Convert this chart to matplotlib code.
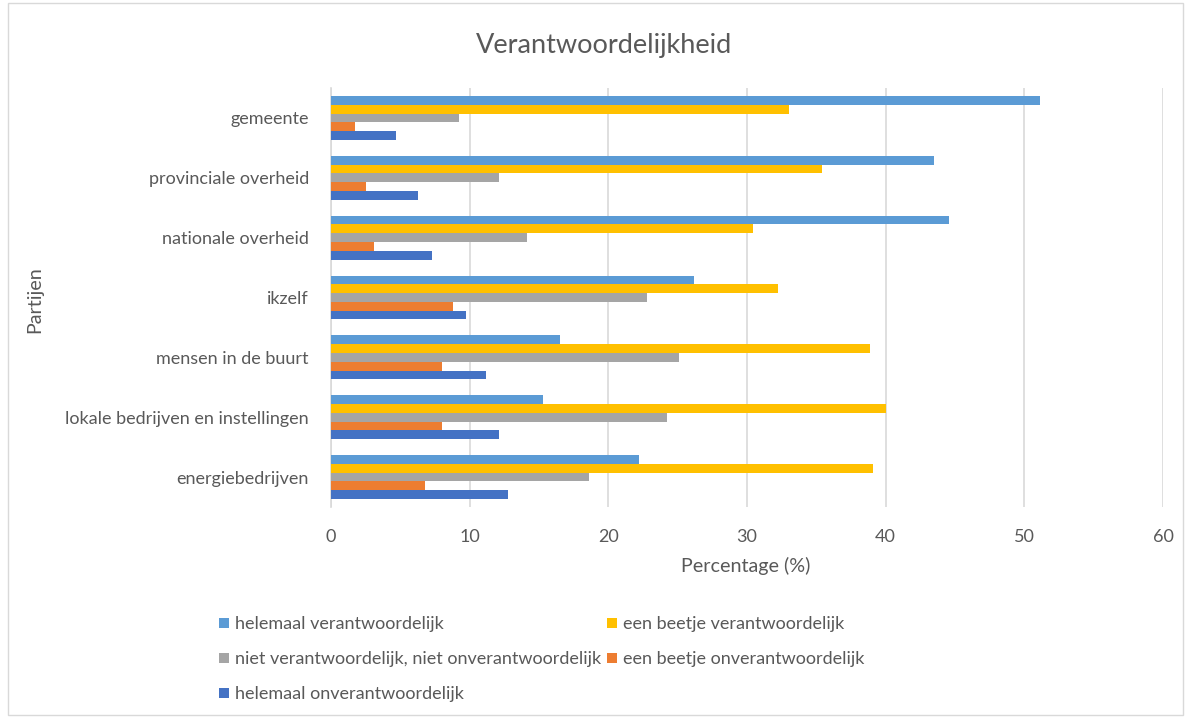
import matplotlib
matplotlib.use("Agg")
import matplotlib.pyplot as plt
import numpy as np
from matplotlib.patches import Rectangle

categories = ["gemeente", "provinciale overheid", "nationale overheid", "ikzelf",
              "mensen in de buurt", "lokale bedrijven en instellingen", "energiebedrijven"]
series_names = ["helemaal verantwoordelijk", "een beetje verantwoordelijk",
                "niet verantwoordelijk, niet onverantwoordelijk",
                "een beetje onverantwoordelijk", "helemaal onverantwoordelijk"]
helemaal_verantw = [51.1, 43.5, 44.6, 26.2, 16.5, 15.3, 22.2]
beetje_verantw = [33.0, 35.4, 30.4, 32.2, 38.9, 40.0, 39.1]
neutraal = [9.2, 12.1, 14.1, 22.8, 25.1, 24.2, 18.6]
beetje_onverantw = [1.7, 2.5, 3.1, 8.8, 8.0, 8.0, 6.8]
helemaal_onverantw = [4.7, 6.3, 7.3, 9.7, 11.2, 12.1, 12.8]
xticks = [0, 10, 20, 30, 40, 50, 60]

series = [helemaal_verantw, beetje_verantw, neutraal, beetje_onverantw, helemaal_onverantw]
colors = ["#5B9BD5", "#FFC000", "#A5A5A5", "#ED7D31", "#4472C4"]

plt.rcParams['font.family'] = ['Lato', 'DejaVu Sans']
txt = "#595959"

fig = plt.figure(figsize=(11.88, 7.18), dpi=100)
ax = fig.add_axes([331/1188, 1 - 507/718, (1163-331)/1188, (507-88)/718])

n = len(series)
bh = 0.147
y = np.arange(len(categories))
handles = []
for k, (vals, c, name) in enumerate(zip(series, colors, series_names)):
    offs = (k - (n - 1) / 2) * bh
    b = ax.barh(y + offs, vals, height=bh, color=c, label=name, zorder=3)
    handles.append(b)

ax.set_ylim(len(categories) - 0.5, -0.5)
ax.set_xlim(0, 60)
ax.set_xticks(xticks)
ax.set_yticks(y)
ax.set_yticklabels(categories)
ax.tick_params(axis='both', length=0, colors=txt, labelsize=13)
ax.tick_params(axis='x', pad=16)
ax.tick_params(axis='y', pad=16)
ax.grid(axis='x', color="#D9D9D9", linewidth=1.2, zorder=0)
for s in ["top", "right", "bottom"]:
    ax.spines[s].set_visible(False)
ax.spines["left"].set_color("#D9D9D9")
ax.spines["left"].set_linewidth(1.2)

fig.text(746/1188, 1 - 566/718, "Percentage (%)", color=txt, fontsize=14.2,
         ha='center', va='center')
fig.text(35/1188, 1 - 300/718, "Partijen", rotation=90, color=txt, fontsize=14.2,
         ha='center', va='center')
fig.text(604/1188, 1 - 45/718, "Verantwoordelijkheid", color=txt, fontsize=19.5,
         ha='center', va='center')

order = [0, 2, 4, 1, 3]
leg = fig.legend([handles[i] for i in order], [series_names[i] for i in order],
                 ncol=2, loc='upper left', bbox_to_anchor=(214/1188, 1 - 611/718),
                 frameon=False, fontsize=13, handlelength=0.55, handleheight=0.55,
                 handletextpad=0.3, labelspacing=1.05, columnspacing=0.35,
                 labelcolor=txt, borderaxespad=0, borderpad=0.3)

fig.patches.append(Rectangle((8/1188, 3/718), 1175/1188, 712/718, transform=fig.transFigure,
                             fill=False, edgecolor="#D9D9D9", linewidth=1))

fig.savefig("out.png", dpi=100, facecolor="white")
